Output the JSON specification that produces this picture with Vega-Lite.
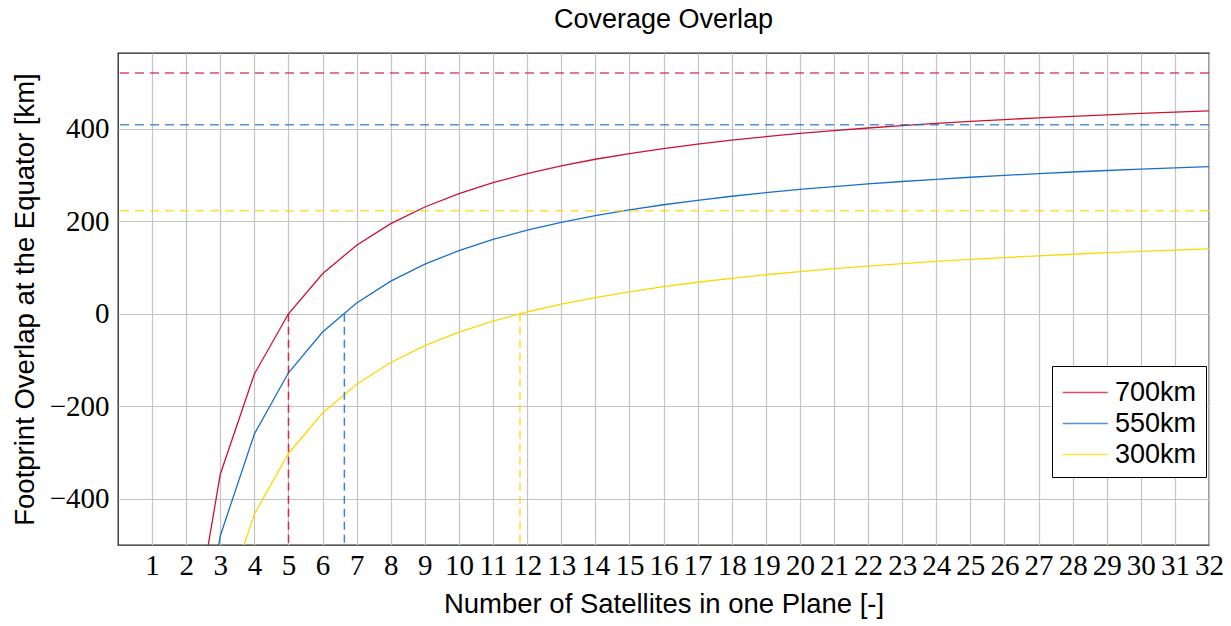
{
  "$schema": "https://vega.github.io/schema/vega-lite/v6.json",
  "autosize": {"type": "none"},
  "padding": {"left": 118, "top": 53, "right": 22, "bottom": 81},
  "width": 1091,
  "height": 492,
  "background": "white",
  "title": {"text": "Coverage Overlap", "font": "Liberation Sans", "fontSize": 27, "fontWeight": "normal", "color": "#000", "offset": 19, "anchor": "middle"},
  "config": {
    "view": {"stroke": "#222", "strokeWidth": 1.3},
    "axis": {"gridColor": "#c4c4c4", "gridWidth": 1.2, "gridOpacity": 1, "domain": false, "ticks": false, "labelFont": "Liberation Serif", "labelFontSize": 29, "labelColor": "#000", "titleFont": "Liberation Sans", "titleFontSize": 27.5, "titleFontWeight": "normal", "titleColor": "#000", "labelOverlap": false, "labelBound": false, "labelFlush": false, "labelSeparation": 0}
  },
  "datasets": {
    "curves": [
      {"series": "700km", "n": 2, "overlap": -780.5}, {"series": "700km", "n": 3, "overlap": -347}, {"series": "700km", "n": 4, "overlap": -130.3}, {"series": "700km", "n": 5, "overlap": 0}, {"series": "700km", "n": 6, "overlap": 86.5}, {"series": "700km", "n": 7, "overlap": 148.4}, {"series": "700km", "n": 8, "overlap": 194.9}, {"series": "700km", "n": 9, "overlap": 231}, {"series": "700km", "n": 10, "overlap": 259.9}, {"series": "700km", "n": 11, "overlap": 283.5}, {"series": "700km", "n": 12, "overlap": 303.3}, {"series": "700km", "n": 13, "overlap": 319.9}, {"series": "700km", "n": 14, "overlap": 334.2}, {"series": "700km", "n": 15, "overlap": 346.6}, {"series": "700km", "n": 16, "overlap": 357.4}, {"series": "700km", "n": 17, "overlap": 367}, {"series": "700km", "n": 18, "overlap": 375.5}, {"series": "700km", "n": 19, "overlap": 383.1}, {"series": "700km", "n": 20, "overlap": 390}, {"series": "700km", "n": 21, "overlap": 396.1}, {"series": "700km", "n": 22, "overlap": 401.8}, {"series": "700km", "n": 23, "overlap": 406.9}, {"series": "700km", "n": 24, "overlap": 411.6}, {"series": "700km", "n": 25, "overlap": 416}, {"series": "700km", "n": 26, "overlap": 420}, {"series": "700km", "n": 27, "overlap": 423.7}, {"series": "700km", "n": 28, "overlap": 427.1}, {"series": "700km", "n": 29, "overlap": 430.3}, {"series": "700km", "n": 30, "overlap": 433.3}, {"series": "700km", "n": 31, "overlap": 436.1}, {"series": "700km", "n": 32, "overlap": 438.7},
      {"series": "550km", "n": 2, "overlap": -920.5}, {"series": "550km", "n": 3, "overlap": -480}, {"series": "550km", "n": 4, "overlap": -259.8}, {"series": "550km", "n": 5, "overlap": -127.6}, {"series": "550km", "n": 6, "overlap": -39.5}, {"series": "550km", "n": 7, "overlap": 23.4}, {"series": "550km", "n": 8, "overlap": 70.6}, {"series": "550km", "n": 9, "overlap": 107.3}, {"series": "550km", "n": 10, "overlap": 136.7}, {"series": "550km", "n": 11, "overlap": 160.7}, {"series": "550km", "n": 12, "overlap": 180.8}, {"series": "550km", "n": 13, "overlap": 197.7}, {"series": "550km", "n": 14, "overlap": 212.2}, {"series": "550km", "n": 15, "overlap": 224.8}, {"series": "550km", "n": 16, "overlap": 235.8}, {"series": "550km", "n": 17, "overlap": 245.5}, {"series": "550km", "n": 18, "overlap": 254.2}, {"series": "550km", "n": 19, "overlap": 261.9}, {"series": "550km", "n": 20, "overlap": 268.9}, {"series": "550km", "n": 21, "overlap": 275.1}, {"series": "550km", "n": 22, "overlap": 280.9}, {"series": "550km", "n": 23, "overlap": 286.1}, {"series": "550km", "n": 24, "overlap": 290.9}, {"series": "550km", "n": 25, "overlap": 295.3}, {"series": "550km", "n": 26, "overlap": 299.3}, {"series": "550km", "n": 27, "overlap": 303.1}, {"series": "550km", "n": 28, "overlap": 306.6}, {"series": "550km", "n": 29, "overlap": 309.9}, {"series": "550km", "n": 30, "overlap": 312.9}, {"series": "550km", "n": 31, "overlap": 315.7}, {"series": "550km", "n": 32, "overlap": 318.4},
      {"series": "300km", "n": 2, "overlap": -1089}, {"series": "300km", "n": 3, "overlap": -651.8}, {"series": "300km", "n": 4, "overlap": -433.3}, {"series": "300km", "n": 5, "overlap": -302.1}, {"series": "300km", "n": 6, "overlap": -214.7}, {"series": "300km", "n": 7, "overlap": -152.2}, {"series": "300km", "n": 8, "overlap": -105.4}, {"series": "300km", "n": 9, "overlap": -69}, {"series": "300km", "n": 10, "overlap": -39.8}, {"series": "300km", "n": 11, "overlap": -16}, {"series": "300km", "n": 12, "overlap": 3.9}, {"series": "300km", "n": 13, "overlap": 20.7}, {"series": "300km", "n": 14, "overlap": 35.1}, {"series": "300km", "n": 15, "overlap": 47.6}, {"series": "300km", "n": 16, "overlap": 58.6}, {"series": "300km", "n": 17, "overlap": 68.2}, {"series": "300km", "n": 18, "overlap": 76.8}, {"series": "300km", "n": 19, "overlap": 84.4}, {"series": "300km", "n": 20, "overlap": 91.4}, {"series": "300km", "n": 21, "overlap": 97.6}, {"series": "300km", "n": 22, "overlap": 103.3}, {"series": "300km", "n": 23, "overlap": 108.5}, {"series": "300km", "n": 24, "overlap": 113.2}, {"series": "300km", "n": 25, "overlap": 117.6}, {"series": "300km", "n": 26, "overlap": 121.6}, {"series": "300km", "n": 27, "overlap": 125.4}, {"series": "300km", "n": 28, "overlap": 128.8}, {"series": "300km", "n": 29, "overlap": 132.1}, {"series": "300km", "n": 30, "overlap": 135.1}, {"series": "300km", "n": 31, "overlap": 137.9}, {"series": "300km", "n": 32, "overlap": 140.5}
    ],
    "hlines": [
      {"series": "700km", "limit": 521},
      {"series": "550km", "limit": 409},
      {"series": "300km", "limit": 223}
    ],
    "vlines": [
      {"series": "700km", "crossing": 5, "top": 0, "bottom": -500},
      {"series": "550km", "crossing": 6.64, "top": 0, "bottom": -500},
      {"series": "300km", "crossing": 11.79, "top": 0, "bottom": -500}
    ]
  },
  "layer": [
    {
      "data": {"name": "curves"},
      "mark": {"type": "line", "strokeWidth": 1.3, "clip": true},
      "encoding": {
        "x": {"field": "n", "type": "quantitative", "scale": {"domain": [0, 32], "nice": false, "zero": false},
              "axis": {"title": "Number of Satellites in one Plane [-]", "values": [1,2,3,4,5,6,7,8,9,10,11,12,13,14,15,16,17,18,19,20,21,22,23,24,25,26,27,28,29,30,31,32], "labelOverlap": false, "labelSeparation": 0, "labelPadding": 6, "titlePadding": 10}},
        "y": {"field": "overlap", "type": "quantitative", "scale": {"domain": [-500, 564], "nice": false, "zero": false},
              "axis": {"title": "Footprint Overlap at the Equator [km]", "values": [-400, -200, 0, 200, 400], "labelPadding": 9, "titlePadding": 10}},
        "color": {"field": "series", "type": "nominal",
                  "scale": {"domain": ["700km", "550km", "300km"], "range": ["#cc1236", "#1a6fc9", "#ffd700"]},
                  "legend": {"title": null, "orient": "none", "legendX": 934, "legendY": 313, "strokeColor": "#000", "fillColor": "#fff", "padding": 9, "symbolType": "M-0.94,0H1.75", "symbolSize": 1122, "symbolStrokeWidth": 1.5, "symbolDash": [1, 0], "labelFont": "Liberation Sans", "labelFontSize": 27, "labelColor": "#000", "labelOffset": 19, "rowPadding": 0, "cornerRadius": 0}},
        "order": {"field": "n", "type": "quantitative"}
      }
    },
    {
      "data": {"name": "hlines"},
      "mark": {"type": "rule", "strokeWidth": 1.5, "strokeDash": [9, 6], "opacity": 0.75},
      "encoding": {
        "y": {"field": "limit", "type": "quantitative"},
        "color": {"field": "series", "type": "nominal"}
      }
    },
    {
      "data": {"name": "vlines"},
      "mark": {"type": "rule", "strokeWidth": 1.5, "strokeDash": [8, 5], "opacity": 0.85},
      "encoding": {
        "x": {"field": "crossing", "type": "quantitative",
              "axis": {"title": "Number of Satellites in one Plane [-]", "values": [1,2,3,4,5,6,7,8,9,10,11,12,13,14,15,16,17,18,19,20,21,22,23,24,25,26,27,28,29,30,31,32], "labelOverlap": false, "labelSeparation": 0, "labelPadding": 6, "titlePadding": 10}},
        "y": {"field": "top", "type": "quantitative"},
        "y2": {"field": "bottom"},
        "color": {"field": "series", "type": "nominal"}
      }
    }
  ]
}
